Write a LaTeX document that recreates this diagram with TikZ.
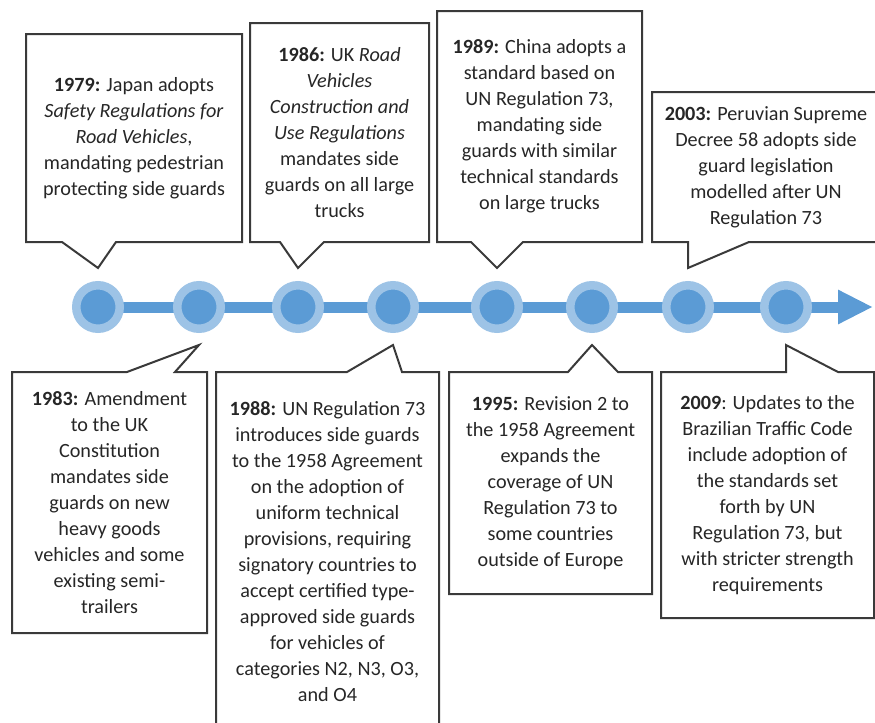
\documentclass[tikz,border=0pt]{standalone}
\usepackage{fontspec}
\setmainfont{Carlito}
\usepackage{tikz}
\usetikzlibrary{positioning, calc, arrows.meta, backgrounds}

\definecolor{ringblue}{HTML}{9DC3E6}
\definecolor{coreblue}{HTML}{5B9BD5}
\definecolor{edgegray}{HTML}{3A3A3A}

\begin{document}
\begin{tikzpicture}[
    x=0.5pt, y=-0.5pt,
    dot/.style={
        circle,
        fill=coreblue,
        draw=ringblue,
        line width=4.25pt,
        minimum size=21.75pt,
        inner sep=0pt
    },
    note/.style={
        align=center,
        inner sep=0pt,
        outer sep=0pt,
        text=black!85,
        font=\fontsize{10.1pt}{13pt}\selectfont
    },
    outline/.style={
        draw=edgegray,
        line width=1pt,
        line join=miter
    }
]
\useasboundingbox (0,0) rectangle (875,723);

% ==========================================
% TIMELINE
% ==========================================

% Dots
\node[dot] (d1) at (98,307) {};
\node[dot] (d2) at (199,307) {};
\node[dot] (d3) at (298,307) {};
\node[dot] (d4) at (393,307) {};
\node[dot] (d5) at (497,307) {};
\node[dot] (d6) at (592,307) {};
\node[dot] (d7) at (688,307) {};
\node[dot] (d8) at (786,307) {};
\coordinate (tlend) at (873,307);

% Arrow behind the dots
\begin{scope}[on background layer]
    \draw[coreblue, line width=5.5pt, -{Triangle[length=17.5pt, width=16pt]}] (d1.center) -- (tlend);
\end{scope}

% Pointer tips
\coordinate[above=6.5pt of d1] (t1);
\coordinate[below=6pt of d2] (t2);
\coordinate[above=6.5pt of d3] (t3);
\coordinate[below=6pt of d4] (t4);
\coordinate[above=6.5pt of d5] (t5);
\coordinate[below=6pt of d6] (t6);
\coordinate[above=6.5pt of d7] (t7);
\coordinate[below=6pt of d8] (t8);

% ==========================================
% CALLOUTS ABOVE
% ==========================================

\node[note, minimum width=108pt, minimum height=104pt] (c79) at (134,138) {%
    \textbf{1979:} Japan adopts\\
    \textit{Safety Regulations for}\\
    \textit{Road Vehicles},\\
    mandating pedestrian\\
    protecting side guards};
\draw[outline] (c79.north west) -- (c79.north east) -- (c79.south east)
    -- ($(c79.south west)+(90,0)$) -- (t1) -- ($(c79.south west)+(36,0)$)
    -- (c79.south west) -- cycle;

\node[note, minimum width=89.5pt, minimum height=109.5pt] (c86) at (339.5,132.5) {%
    \textbf{1986:} UK \textit{Road}\\
    \textit{Vehicles}\\
    \textit{Construction and}\\
    \textit{Use Regulations}\\
    mandates side\\
    guards on all large\\
    trucks};
\draw[outline] (c86.north west) -- (c86.north east) -- (c86.south east)
    -- ($(c86.south west)+(74,0)$) -- (t3) -- ($(c86.south west)+(30,0)$)
    -- (c86.south west) -- cycle;

\node[note, minimum width=102.5pt, minimum height=115.5pt] (c89) at (539.5,126.5) {%
    \textbf{1989:} China adopts a\\
    standard based on\\
    UN Regulation 73,\\
    mandating side\\
    guards with similar\\
    technical standards\\
    on large trucks};
\draw[outline] (c89.north west) -- (c89.north east) -- (c89.south east)
    -- ($(c89.south west)+(86,0)$) -- (t5) -- ($(c89.south west)+(34,0)$)
    -- (c89.south west) -- cycle;

\node[note, minimum width=114pt, minimum height=75pt] (c03) at (766,167) {%
    \textbf{2003:} Peruvian Supreme\\
    Decree 58 adopts side\\
    guard legislation\\
    modelled after UN\\
    Regulation 73};
\draw[outline] (c03.north west) -- (c03.north east) -- (c03.south east)
    -- ($(c03.south west)+(97,0)$) -- (t7) -- (t7 |- c03.south)
    -- (c03.south west) -- cycle;

% ==========================================
% CALLOUTS BELOW
% ==========================================

\node[note, minimum width=97.5pt, minimum height=130.5pt] (c83) at (109.5,502.5) {%
    \textbf{1983:} Amendment\\
    to the UK\\
    Constitution\\
    mandates side\\
    guards on new\\
    heavy goods\\
    vehicles and some\\
    existing semi-\\
    trailers};
\draw[outline] (c83.north west) -- ($(c83.north west)+(115,0)$) -- (t2)
    -- ($(c83.north west)+(163,0)$) -- (c83.north east) -- (c83.south east)
    -- (c83.south west) -- cycle;

\node[note, minimum width=111.5pt, minimum height=180pt] (c88) at (327.5,552) {%
    \textbf{1988:} UN Regulation 73\\
    introduces side guards\\
    to the 1958 Agreement\\
    on the adoption of\\
    uniform technical\\
    provisions, requiring\\
    signatory countries to\\
    accept certified type-\\
    approved side guards\\
    for vehicles of\\
    categories N2, N3, O3,\\
    and O4};
\draw[outline] (c88.north west) -- ($(c88.north west)+(131,0)$) -- (t4)
    -- ($(c88.north west)+(186,0)$) -- (c88.north east) -- (c88.south east)
    -- (c88.south west) -- cycle;

\node[note, minimum width=101.5pt, minimum height=111pt] (c95) at (550.5,483) {%
    \textbf{1995:} Revision 2 to\\
    the 1958 Agreement\\
    expands the\\
    coverage of UN\\
    Regulation 73 to\\
    some countries\\
    outside of Europe};
\draw[outline] (c95.north west) -- ($(c95.north west)+(119,0)$) -- (t6)
    -- ($(c95.north west)+(169,0)$) -- (c95.north east) -- (c95.south east)
    -- (c95.south west) -- cycle;

\node[note, minimum width=106.5pt, minimum height=123pt] (c09) at (767.5,495) {%
    \textbf{2009}: Updates to the\\
    Brazilian Traffic Code\\
    include adoption of\\
    the standards set\\
    forth by UN\\
    Regulation 73, but\\
    with stricter strength\\
    requirements};
\draw[outline] (c09.north west) -- (t8 |- c09.north) -- (t8)
    -- ($(c09.north west)+(177,0)$) -- (c09.north east) -- (c09.south east)
    -- (c09.south west) -- cycle;

\end{tikzpicture}
\end{document}
